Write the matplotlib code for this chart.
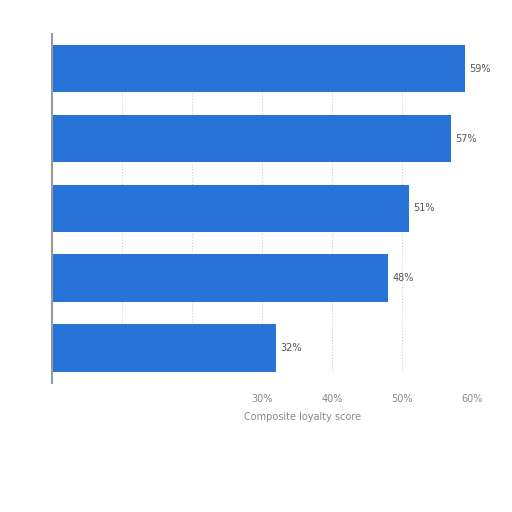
import numpy as np
import matplotlib
matplotlib.use('Agg')
import matplotlib.pyplot as plt

# composite loyalty scores, top bar first
scores = [59, 57, 51, 48, 32]
value_labels = ['59%', '57%', '51%', '48%', '32%']
tick_values = [0, 10, 20, 30, 40, 50, 60]
tick_labels = ['', '', '', '30%', '40%', '50%', '60%']


def main():
    fig = plt.figure(figsize=(5.12, 5.12), dpi=100)
    ax = fig.add_axes([0.102, 0.252, 0.820, 0.682])
    ypos = np.arange(len(scores))
    bar_h = 0.68
    ax.barh(ypos, scores, height=bar_h, color='#2873d8', zorder=2)
    for y, v, lab in zip(ypos, scores, value_labels):
        ax.text(v + 0.6, y, lab, va='center', ha='left', fontsize=7, color='#555555')
    # grid only between the first and last bar
    ax.vlines(tick_values[1:], -bar_h / 2, len(scores) - 1 + bar_h / 2,
              colors='#cccccc', linestyles=':', linewidth=0.8, zorder=0)
    ax.set_xlim(0, 60)
    ax.set_ylim(len(scores) - 0.5, -0.5)
    ax.set_xticks(tick_values)
    ax.set_xticklabels(tick_labels, fontsize=7, color='#888888')
    ax.set_yticks([])
    ax.tick_params(axis='x', length=0, pad=8)
    for s in ['top', 'right', 'bottom']:
        ax.spines[s].set_visible(False)
    ax.spines['left'].set_color('#999999')
    ax.spines['left'].set_linewidth(1.5)
    fig.text(244 / 512, 1 - 417 / 512, 'Composite loyalty score', fontsize=7,
             color='#888888', ha='left', va='center')
    fig.savefig('out.png', dpi=100)


if __name__ == '__main__':
    main()
